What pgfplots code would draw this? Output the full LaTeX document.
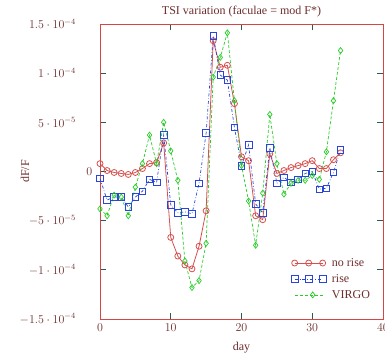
\documentclass[border=0pt]{standalone}
\usepackage{pgfplots}
\pgfplotsset{compat=1.18}
\usepackage{fontspec}
\setmainfont{Liberation Serif}
\definecolor{cred}{RGB}{215,80,80}
\definecolor{cblue}{RGB}{40,70,220}
\definecolor{cgreen}{RGB}{40,205,40}
\definecolor{cframe}{RGB}{215,70,70}
\definecolor{ctext}{RGB}{110,45,45}
\definecolor{ctick}{RGB}{40,90,90}
\pgfplotsset{
  threemarks/.style={legend image code/.code={\draw[mark repeat=1,##1] plot coordinates {(0pt,0pt) (14pt,0pt) (28pt,0pt)};}},
  onemark/.style={legend image code/.code={\draw[mark repeat=2,mark phase=2,##1] plot coordinates {(0pt,0pt) (18pt,0pt) (28pt,0pt)};}},
}
\pgfplotstableread{
day norise rise virgo
0 0.8 -0.7 -3.8
1 0.1 -2.9 -4.5
2 -0.1 -2.6 -2.4
3 -0.2 -2.6 -2.6
4 -0.3 -3.6 -4.5
5 -0.1 -2.6 -1.6
6 0.3 -2.0 0.8
7 0.8 -0.8 3.7
8 0.9 -1.1 0.8
9 2.9 3.7 5.0
10 -6.7 -3.4 2.1
11 -8.6 -4.2 -0.9
12 -9.5 -4.1 -9.1
13 -9.9 -4.3 -11.8
14 -7.6 -1.2 -11.1
15 -4.0 3.9 -7.3
16 13.3 13.8 9.6
17 10.6 9.8 11.6
18 10.8 9.3 14.1
19 6.9 4.5 7.2
20 1.5 0.6 0.6
21 1.1 2.7 -3.0
22 -4.5 -3.3 -7.5
23 -4.9 -4.2 -2.2
24 1.8 2.4 5.8
25 -0.2 -1.2 0.8
26 0.1 -0.6 -2.3
27 0.4 -1.1 -1.2
28 0.6 -0.8 -0.9
29 0.8 -0.2 -0.9
30 1.1 0.0 -0.4
31 0.3 -1.8 -0.8
32 0.3 -1.7 2.0
33 1.2 -0.1 7.2
34 1.9 2.2 12.3
}\datatable
\begin{document}
\begin{tikzpicture}
\begin{axis}[
  scale only axis, width=283pt, height=295pt,
  xmin=0, xmax=40, ymin=-15, ymax=15,
  xtick={0,10,20,30,40},
  ytick={-15,-10,-5,0,5,10,15},
  yticklabels={$-1.5\cdot 10^{-4}$,$-1\cdot 10^{-4}$,$-5\cdot 10^{-5}$,{\makebox[0pt][l]{\hspace*{11pt}$0$}},$5\cdot 10^{-5}$,$1\cdot 10^{-4}$,$1.5\cdot 10^{-4}$},
  tick align=inside, major tick length=6pt,
  tick style={ctick, line width=0.8pt},
  axis line style={cframe, line width=0.8pt},
  font=\fontsize{12}{14}\selectfont,
  tick label style={ctext, font=\fontsize{12}{14}\selectfont},
  yticklabel style={anchor=east, inner sep=0pt},
  yticklabel shift=24pt,
  xticklabel shift=1pt,
  title={TSI variation (faculae = mod F*)},
  title style={ctext, yshift=-3pt},
  xlabel={day}, ylabel={dF/F},
  label style={ctext},
  xlabel style={yshift=-4pt},
  ylabel style={at={(axis description cs:-0.265,0.5)}, anchor=center},
  legend style={at={(0.665,0.22)}, anchor=north west, draw=none, fill=none,
    font=\fontsize{12}{14}\selectfont, text=ctext, row sep=2.5pt,
    /tikz/every odd column/.append style={column sep=4pt}},
  legend cell align=left,
]
\addplot[cred, line width=0.8pt, mark=o, mark size=3pt, mark options={solid}, threemarks]
  table[x=day, y=norise] {\datatable};
\addlegendentry{no rise}
\addplot[cblue, line width=0.7pt, dash dot, mark=square, mark size=3.3pt, mark options={solid}, threemarks]
  table[x=day, y=rise] {\datatable};
\addlegendentry{rise}
\addplot[cgreen, line width=0.7pt, densely dashed, mark=diamond, mark size=3pt, mark options={solid}, onemark]
  table[x=day, y=virgo] {\datatable};
\addlegendentry{VIRGO}
\end{axis}
\pgfresetboundingbox
\path[use as bounding box] ([xshift=-100pt,yshift=-41pt]current axis.south west) rectangle ([xshift=2pt,yshift=24pt]current axis.north east);
\end{tikzpicture}
\end{document}
